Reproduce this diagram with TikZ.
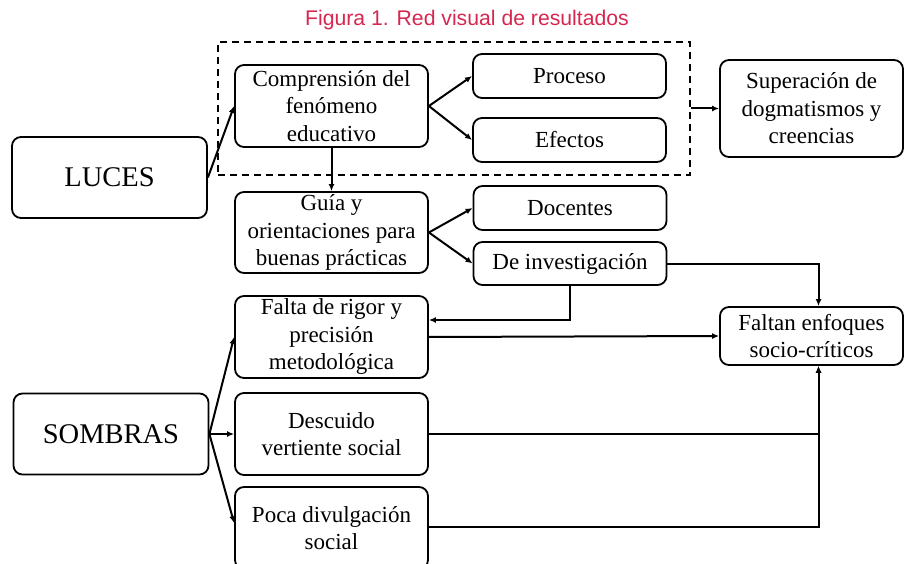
\documentclass[tikz,border=0pt]{standalone}
\usepackage{fontspec}
\setmainfont{Liberation Serif}
\newfontfamily\titlefont{Liberation Sans}
\usepackage{xcolor}
\usepackage{tikz}
\definecolor{figred}{HTML}{D7264F}
\usetikzlibrary{arrows.meta, positioning}

\begin{document}
\begin{tikzpicture}[
          x=1pt, y=-1pt,
          box/.style = {draw, rounded corners=9pt, line width=1.8pt,
                        align=center, inner sep=0pt,
                        minimum width=193pt, minimum height=82pt,
                        font=\fontsize{23}{27.5}\selectfont},
          smallbox/.style = {box, minimum height=44pt},
          bigbox/.style = {box, minimum width=195pt, minimum height=81pt,
                           font=\fontsize{28.5}{32}\selectfont},
          groupbox/.style = {draw, dashed, dash pattern=on 7pt off 5pt,
                             line width=1.8pt, inner sep=0pt},
          arr/.style = {-{Latex[length=7pt, width=6pt]}, line width=2pt},
        ]
        \useasboundingbox (0,0) rectangle (905,564);

        %% Title
        \node[font=\titlefont\fontsize{21.2}{24}\selectfont, text=figred] (title) at (467,20) {Figura 1. Red visual de resultados};

        %% Nodes
        \node[bigbox] (luces) at (109.5,177.5) {LUCES};
        \node[bigbox] (sombras) at (111,434) {SOMBRAS};

        \node[box] (comp) at (331.5,106) {Comprensión del\\fenómeno\\educativo};
        \node[smallbox] (proc) at (569.5,76) {Proceso};
        \node[smallbox] (efec) at (569.5,140) {Efectos};
        \node[groupbox, minimum width=472pt, minimum height=133pt] (grupo) at (454,108.5) {};
        \node[box, minimum width=183pt, minimum height=97pt] (super) at (811.5,108.5) {Superación de\\dogmatismos y\\creencias};

        \node[box, minimum height=81pt] (guia) at (331.5,232.5) {Guía y\\orientaciones para\\buenas prácticas};
        \node[smallbox] (doc) at (570,208) {Docentes};
        \node[smallbox, minimum height=43pt] (inv) at (570,263.5) {De investigación};

        \node[box] (falta) at (331.5,337) {Falta de rigor y\\precisión\\metodológica};
        \node[box, minimum width=183pt, minimum height=58pt] (faltan) at (811.5,336) {Faltan enfoques\\socio-críticos};
        \node[box] (desc) at (331.5,434) {Descuido\\vertiente social};
        \node[box] (poca) at (331.5,528) {Poca divulgación\\social};

        %% Luces arrows
        \draw[arr] (luces.east) -- (comp.west);
        \draw[arr] (comp.east) -- (proc.west);
        \draw[arr] (comp.east) -- (efec.west);
        \draw[arr] (grupo.east) -- (super.west);
        \draw[arr] (comp.south) -- (guia.north);
        \draw[arr] (guia.east) -- (doc.west);
        \draw[arr] (guia.east) -- (inv.west);
        \draw[arr] (inv.east) -| ([xshift=7pt]faltan.north);
        \draw[arr] (inv.south) |- ([yshift=17pt]falta.east);

        %% Sombras arrows
        \draw[arr] (sombras.east) -- (falta.west);
        \draw[arr] (sombras.east) -- (desc.west);
        \draw[arr] (sombras.east) -- ([yshift=5pt]poca.west);
        \draw[arr] (falta.east) -- (faltan.west);
        \draw[arr] (desc.east) -| ([xshift=7pt]faltan.south);
        \draw[arr] ([yshift=1pt]poca.east) -| ([xshift=7pt]faltan.south);
      \end{tikzpicture}
\end{document}
